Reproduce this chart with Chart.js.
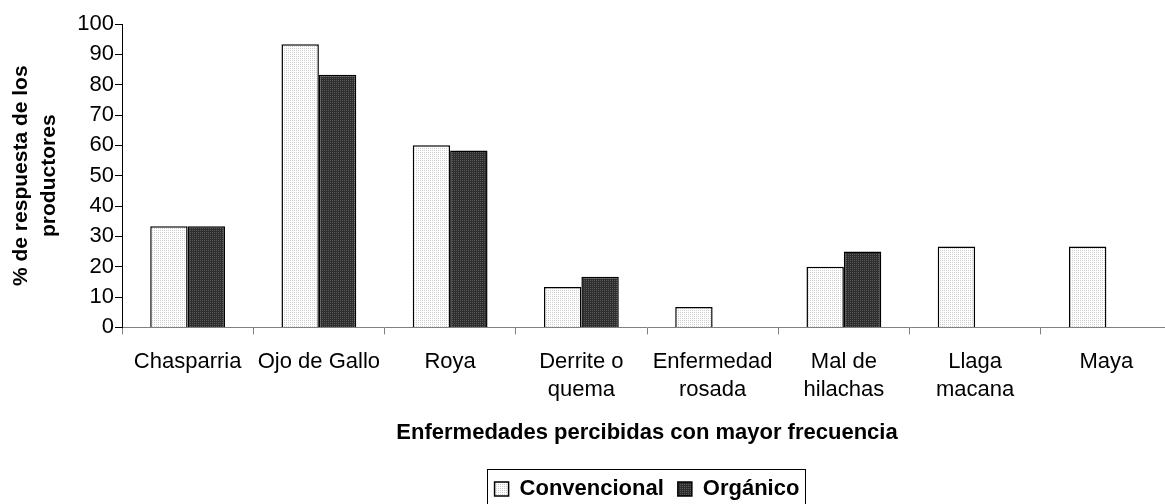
<!DOCTYPE html>
<html>
<head>
<meta charset="utf-8">
<script src="https://cdn.jsdelivr.net/npm/chart.js@4.4.1/dist/chart.umd.min.js"></script>
<style>
  html, body { margin: 0; padding: 0; background: #fff; overflow: hidden; }
  #wrap { width: 1180px; height: 504px; }
</style>
</head>
<body>
<div id="wrap"><canvas id="grafico"></canvas></div>
<script>
// datos
const enfermedades = ['Chasparria', 'Ojo de Gallo', 'Roya', ['Derrite o', 'quema'], ['Enfermedad', 'rosada'], ['Mal de', 'hilachas'], ['Llaga', 'macana'], 'Maya'];
const convencional = [33.3, 93.3, 60, 13.3, 6.7, 20, 26.7, 26.7];
const organico = [33.3, 83.3, 58.3, 16.7, 0, 25, 0, 0];
const ticksY = [0, 10, 20, 30, 40, 50, 60, 70, 80, 90, 100];

const fuente = 'Liberation Sans';

// relleno punteado tipo Excel
function hacerPatron(fondo, punto) {
    const c = document.createElement('canvas');
    c.width = 2; c.height = 2;
    const g = c.getContext('2d');
    g.fillStyle = fondo;
    g.fillRect(0, 0, 2, 2);
    g.fillStyle = punto;
    g.fillRect(0, 0, 1, 1);
    return g.createPattern(c, 'repeat');
}

const patronClaro = hacerPatron('#ffffff', '#cfcfcf');
const patronOscuro = hacerPatron('#2e2e2e', '#5a5a5a');

// marco alrededor de la leyenda
const marcoLeyenda = {
    id: 'marcoLeyenda',
    afterDraw(chart) {
        const cajas = chart.legend.legendHitBoxes;
        if (!cajas || !cajas.length) return;
        const izq = Math.min(...cajas.map(b => b.left)) - 8;
        const der = Math.max(...cajas.map(b => b.left + b.width)) + 5;
        const centro = cajas[0].top + cajas[0].height / 2;
        const ctx = chart.ctx;
        ctx.save();
        ctx.strokeStyle = '#000';
        ctx.lineWidth = 1;
        ctx.strokeRect(Math.round(izq) + 0.5, Math.round(centro - 20) + 0.5, Math.round(der - izq), 40);
        ctx.restore();
    }
};

const borde = (ctx) => (ctx.raw === 0 ? 0 : 1.5);

new Chart(document.getElementById('grafico'), {
    type: 'bar',
    data: {
        labels: enfermedades,
        datasets: [
            {
                label: 'Convencional',
                data: convencional,
                backgroundColor: patronClaro,
                borderColor: '#000',
                borderWidth: borde,
                borderSkipped: 'bottom'
            },
            {
                label: 'Orgánico',
                data: organico,
                backgroundColor: patronOscuro,
                borderColor: '#000',
                borderWidth: borde,
                borderSkipped: 'bottom'
            }
        ]
    },
    options: {
        responsive: true,
        maintainAspectRatio: false,
        animation: false,
        datasets: { bar: { categoryPercentage: 0.57, barPercentage: 1 } },
        layout: { padding: { top: 24, right: 8, left: 0, bottom: -6 } },
        scales: {
            x: {
                afterFit: (s) => { s.height = 136.6; },
                grid: { offset: true, drawOnChartArea: false, tickLength: 7, color: '#808080', lineWidth: 1 },
                border: { color: '#808080', width: 1 },
                ticks: {
                    color: '#000',
                    font: { family: fuente, size: 22, lineHeight: 1.25 },
                    maxRotation: 0, autoSkip: false, padding: 14
                },
                title: {
                    display: true,
                    text: 'Enfermedades percibidas con mayor frecuencia',
                    color: '#000',
                    font: { family: fuente, size: 22, weight: 'bold', lineHeight: 1.25 },
                    padding: { top: 0, bottom: 17 }
                }
            },
            y: {
                min: 0,
                max: 100,
                afterFit: (s) => { s.width = 122; },
                afterBuildTicks: (s) => { s.ticks = ticksY.map(v => ({ value: v })); },
                grid: { drawOnChartArea: false, tickLength: 7, color: '#000' },
                border: { color: '#000', width: 1 },
                ticks: { color: '#000', font: { family: fuente, size: 22 }, padding: 1 },
                title: {
                    display: true,
                    text: ['% de respuesta de los', 'productores'],
                    color: '#000',
                    font: { family: fuente, size: 21, weight: 'bold', lineHeight: 1.3 },
                    padding: { top: 8, bottom: 0 }
                }
            }
        },
        plugins: {
            legend: {
                position: 'bottom',
                fullSize: false,
                labels: {
                    color: '#000',
                    boxWidth: 14,
                    boxHeight: 14,
                    padding: 14,
                    font: { family: fuente, size: 22, weight: 'bold' }
                }
            },
            tooltip: { enabled: false }
        }
    },
    plugins: [marcoLeyenda]
});
</script>
</body>
</html>
